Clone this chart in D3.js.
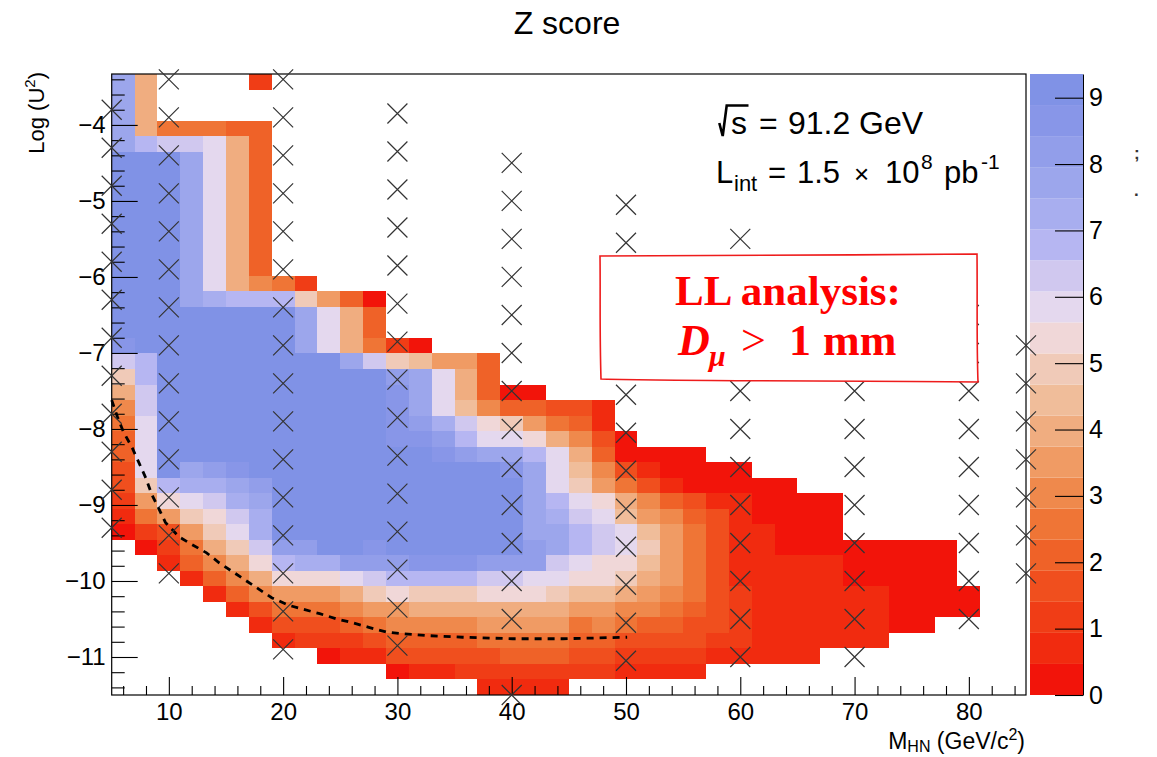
<!DOCTYPE html>
<html>
<head>
<meta charset="utf-8">
<script src="https://cdn.jsdelivr.net/npm/d3@7"></script>
<style>
  html, body { margin: 0; padding: 0; background: #fff; }
  svg { display: block; font-family: "Liberation Sans", Arial, Helvetica, sans-serif; }
</style>
</head>
<body>
<svg id="chart" width="1157" height="757"></svg>
<script>
// ---------------- data ----------------
// Heavy-neutral-lepton mass bins (bin centres, GeV/c^2), 2 GeV wide
const massGeV = [6, 8, 10, 12, 14, 16, 18, 20, 22, 24, 26, 28, 30, 32, 34, 36, 38, 40, 42,
                 44, 46, 48, 50, 52, 54, 56, 58, 60, 62, 64, 66, 68, 70, 72, 74, 76, 78, 80];

// index of the first filled log(U^2) bin of each mass column, counted downward from the top bin
const firstRow = [0, 0, 3, 3, 3, 3, 0, 13, 13, 14, 14, 14, 17, 17, 18, 18, 18, 20, 20,
                  21, 21, 21, 23, 24, 24, 24, 25, 25, 26, 26, 27, 27, 30, 30, 30, 30, 30, 33];

// Z score of each filled bin, top to bottom (null = empty bin)
const zScore = [
  [7.7,7.7,7.7,7.7,7.7,9.3,9.3,9.3,9.3,9.3,9.3,9.3,9.3,9.3,9.3,9.3,9.3,8.7,6.3,4.9,4.0,3.0,2.6,2.1,2.1,1.6,1.6,1.2,0.7,0.2],
  [4.0,4.0,4.0,4.0,6.8,9.3,9.3,9.3,9.3,9.3,9.3,9.3,9.3,9.3,9.3,9.3,9.3,9.3,6.8,6.8,6.3,6.3,5.8,5.8,5.8,5.8,4.9,3.5,2.6,1.2,0.2],
  [2.6,6.3,9.3,9.3,9.3,9.3,9.3,9.3,9.3,9.3,9.3,9.3,9.3,9.3,9.3,9.3,9.3,9.3,9.3,9.3,9.3,9.3,9.3,6.8,5.4,3.5,1.6,1.2,0.7],
  [2.6,6.3,7.7,7.7,7.7,7.7,7.7,7.7,7.7,7.7,7.7,7.7,9.3,9.3,9.3,9.3,9.3,9.3,9.3,9.3,9.3,9.3,7.7,7.3,5.8,4.9,3.5,2.6,2.1,0.7],
  [2.6,5.8,5.8,5.8,5.8,5.8,5.8,5.8,5.8,5.8,5.8,7.3,9.3,9.3,9.3,9.3,9.3,9.3,9.3,9.3,9.3,9.3,8.2,7.3,6.3,5.4,4.9,4.0,3.0,2.1,0.7],
  [2.1,4.0,4.0,4.0,4.0,4.0,4.0,4.0,4.0,4.0,4.0,6.8,9.3,9.3,9.3,9.3,9.3,9.3,9.3,9.3,9.3,9.3,8.7,7.7,7.3,6.3,5.8,4.9,4.0,3.0,2.1,0.7],
  [1.2,null,null,2.1,2.1,2.1,2.1,2.1,2.1,2.1,2.1,2.1,2.1,3.0,6.8,9.3,9.3,9.3,9.3,9.3,9.3,9.3,9.3,9.3,9.3,9.3,8.2,7.7,7.3,7.3,6.3,5.4,4.0,3.0,1.6,0.7],
  [2.6,6.8,9.3,9.3,9.3,9.3,9.3,9.3,9.3,9.3,9.3,9.3,9.3,9.3,9.3,9.3,9.3,8.2,6.8,5.4,3.5,2.6,1.6,0.7],
  [1.2,4.9,7.7,7.7,7.7,9.3,9.3,9.3,9.3,9.3,9.3,9.3,9.3,9.3,9.3,9.3,9.3,8.2,7.3,5.4,3.5,2.6,1.6,1.2],
  [3.5,5.8,5.8,5.8,9.3,9.3,9.3,9.3,9.3,9.3,9.3,9.3,9.3,9.3,9.3,9.3,9.3,7.3,5.4,3.5,2.6,1.6,1.2,0.2],
  [2.1,4.0,4.0,4.0,7.7,9.3,9.3,9.3,9.3,9.3,9.3,9.3,9.3,9.3,9.3,9.3,9.3,8.2,5.8,4.0,3.0,2.1,1.2,0.7],
  [0.2,2.1,2.1,2.6,6.3,9.3,9.3,9.3,9.3,9.3,9.3,9.3,9.3,9.3,9.3,9.3,8.7,8.2,6.3,4.9,3.5,2.6,1.6,0.7],
  [1.2,4.9,8.2,8.7,8.7,8.7,8.7,9.3,9.3,9.3,9.3,9.3,9.3,9.3,8.2,6.8,5.4,3.5,3.0,2.1,1.6,0.2],
  [0.2,4.4,7.7,7.7,7.7,8.2,8.7,9.3,9.3,9.3,9.3,9.3,9.3,9.3,8.7,6.8,4.9,4.0,3.0,2.1,1.6,0.7],
  [3.5,5.8,5.8,5.8,7.3,8.2,8.7,9.3,9.3,9.3,9.3,9.3,9.3,8.7,6.8,4.9,4.0,3.0,2.1,1.6,0.7],
  [3.5,4.0,4.0,4.4,6.3,6.8,8.2,9.3,9.3,9.3,9.3,9.3,9.3,8.7,6.8,4.9,4.0,3.0,2.1,1.6,1.2],
  [2.1,2.1,2.1,3.0,5.4,5.8,7.7,9.3,9.3,9.3,9.3,9.3,9.3,8.2,6.3,5.4,4.0,3.5,2.6,1.6,1.2,0.7],
  [0.2,2.1,4.9,5.8,7.7,8.7,9.3,9.3,9.3,9.3,9.3,8.2,6.3,5.4,4.0,3.5,2.6,2.1,1.2,0.7],
  [0.2,2.1,3.5,5.4,6.8,7.7,7.7,7.7,7.7,7.7,8.2,8.2,5.8,5.4,4.0,3.5,2.6,2.1,1.2,0.7],
  [1.6,2.6,4.0,5.8,5.8,5.8,6.8,7.3,7.7,7.7,6.3,5.8,4.9,4.0,3.5,2.6,2.1,1.2,0.7],
  [1.6,2.1,3.0,4.0,4.4,4.9,5.8,6.3,6.8,6.8,5.8,5.4,4.4,3.5,2.6,2.1,1.6,1.2],
  [0.7,0.7,1.6,2.1,3.0,3.5,5.4,5.8,6.3,6.3,5.4,5.4,4.4,3.5,3.0,2.1,1.6,1.2],
  [0.2,0.2,1.6,2.6,4.0,4.4,5.8,5.8,5.4,4.9,4.0,3.0,2.6,1.6,1.2,0.7],
  [0.2,0.7,1.6,3.0,3.5,4.4,4.9,4.4,4.0,3.5,3.0,2.1,1.6,1.2,0.7],
  [0.2,0.2,0.7,2.1,3.0,3.5,3.5,3.5,3.5,3.0,2.6,2.1,1.6,1.2,0.7],
  [0.2,0.2,0.2,1.6,2.1,2.6,2.6,2.6,2.6,2.6,2.1,1.6,1.6,1.2,0.7],
  [0.2,0.2,0.7,1.6,1.6,1.6,1.6,1.6,1.6,1.6,1.6,1.2,0.7],
  [0.2,0.2,0.7,0.7,0.7,0.7,0.7,0.7,1.2,1.2,1.2,1.2,0.7],
  [0.2,0.2,0.2,0.7,0.7,0.7,0.7,0.7,0.7,0.7,0.7,0.7],
  [0.2,0.2,0.2,0.2,0.2,0.7,0.7,0.7,0.7,0.7,0.7,0.7],
  [0.2,0.2,0.2,0.2,0.7,0.7,0.7,0.7,0.7,0.7,0.7],
  [0.2,0.2,0.2,0.2,0.7,0.7,0.7,0.7,0.7,0.7],
  [0.2,0.2,0.2,0.7,0.7,0.7,0.7],
  [0.2,0.2,0.2,0.7,0.7,0.7,0.7],
  [0.2,0.2,0.2,0.2,0.2,0.2],
  [0.2,0.2,0.2,0.2,0.2,0.2],
  [0.2,0.2,0.2,0.2,0.2],
  [0.2,0.2]
];

// simulated signal points (mass, log U^2)
const scanMass = [5, 10, 20, 30, 40, 50, 60, 70, 80, 85];
const scanLogU2 = [
  [-3.8,-4.3,-4.8,-5.3,-5.8,-6.3,-6.8,-7.3,-7.8,-8.3,-8.8,-9.3],
  [-3.4,-3.9,-4.4,-4.9,-5.4,-5.9,-6.4,-6.9,-7.4,-7.9,-8.4,-8.9,-9.4,-9.9],
  [-3.4,-3.9,-4.4,-4.9,-5.4,-5.9,-6.4,-6.9,-7.4,-7.9,-8.4,-8.9,-9.4,-9.9,-10.4,-10.9],
  [-3.85,-4.35,-4.85,-5.35,-5.85,-6.35,-6.85,-7.35,-7.85,-8.35,-8.85,-9.35,-9.85,-10.35,-10.85],
  [-4.5,-5.0,-5.5,-6.0,-6.5,-7.0,-7.5,-8.0,-8.5,-9.0,-9.5,-10.0,-10.5,-11.5],
  [-5.05,-5.55,-6.05,-6.55,-7.05,-7.55,-8.05,-8.55,-9.05,-9.55,-10.05,-10.55,-11.05],
  [-5.5,-6.0,-6.5,-7.0,-7.5,-8.0,-8.5,-9.0,-9.5,-10.0,-10.5,-11.0],
  [-6.0,-6.5,-7.0,-7.5,-8.0,-8.5,-9.0,-9.5,-10.0,-10.5,-11.0],
  [-6.5,-7.0,-7.5,-8.0,-8.5,-9.0,-9.5,-10.0,-10.5],
  [-6.9,-7.4,-7.9,-8.4,-8.9,-9.4,-9.9]
];

// dashed boundary curve
const curveMass  = [5.0, 5.5, 6.0, 6.8, 7.4, 8.0, 8.5, 9.1, 9.7, 10.9, 11.9, 13.3, 14.4, 15.5, 16.8,
                    17.9, 19.0, 20.5, 21.7, 23.2, 24.7, 26.1, 27.5, 29.0, 30.2, 32.8, 35.7, 40.1, 44.5, 50.1];
const curveLogU2 = [-7.62, -7.84, -8.03, -8.25, -8.45, -8.65, -8.86, -9.04, -9.23, -9.42, -9.51, -9.63, -9.76, -9.87, -10.0,
                    -10.11, -10.22, -10.32, -10.37, -10.43, -10.5, -10.55, -10.61, -10.67, -10.69, -10.72, -10.74, -10.76, -10.76, -10.74];

// axis tick labels
const xTickValues = [10, 20, 30, 40, 50, 60, 70, 80];
const yTickValues = [-4, -5, -6, -7, -8, -9, -10, -11];
const zTickValues = [0, 1, 2, 3, 4, 5, 6, 7, 8, 9];

// 20-level palette, low to high
const bandColors = ["#f2140a","#f12b0f","#f03d16","#f04f1e","#ef6228","#ef7536","#ef894c","#f09b64",
                    "#f0ad80","#f0bd9a","#f0cab8","#f0d7d8","#e4d8ee","#d0c8ef","#b6b6f2","#a8aeef",
                    "#9ca6ec","#929eea","#8896e8","#8092e6"];

// ---------------- layout ----------------
const plot = { left: 111.7, right: 1026, top: 74, bottom: 695 };
const xDomain = [5, 85], yDomain = [-11.5, -3.33], zDomain = [0, 9.357];
const nRows = 40, binW = 2;
const binH = (yDomain[1] - yDomain[0]) / nRows;

const svg = d3.select("#chart");
const x = d3.scaleLinear().domain(xDomain).range([plot.left, plot.right]);
const y = d3.scaleLinear().domain(yDomain).range([plot.bottom, plot.top]);
const color = d3.scaleQuantize().domain(zDomain).range(bandColors);
const zBar = d3.scaleLinear().domain(zDomain).range([plot.bottom, plot.top]);

svg.append("text").attr("x", 567).attr("y", 34).attr("text-anchor", "middle")
  .style("font-size", "32px").attr("fill", "#000").text("Z score");

// ---------------- heat-map cells ----------------
const cells = [];
massGeV.forEach((m, i) => {
  zScore[i].forEach((z, k) => {
    if (z === null) return;
    const r = firstRow[i] + k;
    const hi = yDomain[1] - r * binH;
    cells.push({ m, hi, lo: hi - binH, z });
  });
});

svg.append("g").selectAll("rect").data(cells).join("rect")
  .attr("x", d => Math.round(x(d.m - binW / 2)))
  .attr("width", d => Math.round(x(d.m + binW / 2)) - Math.round(x(d.m - binW / 2)))
  .attr("y", d => Math.round(y(d.hi)))
  .attr("height", d => Math.round(y(d.lo)) - Math.round(y(d.hi)))
  .attr("fill", d => color(d.z));

// ---------------- colour bar ----------------
const bar = svg.append("g");
bar.selectAll("rect").data(bandColors).join("rect")
  .attr("x", 1030).attr("width", 53)
  .attr("y", c => zBar(color.invertExtent(c)[1]))
  .attr("height", c => zBar(color.invertExtent(c)[0]) - zBar(color.invertExtent(c)[1]))
  .attr("fill", c => c);
const zAxis = d3.axisRight(zBar).tickValues(zTickValues).tickSizeInner(-28).tickSizeOuter(0).tickPadding(6)
  .tickFormat(d3.format("d"));
bar.append("g").attr("transform", "translate(1083,0)").call(zAxis)
  .call(g => g.selectAll("text").style("font-size", "25px").attr("fill", "#000"))
  .call(g => g.selectAll("line").attr("stroke", "#000"))
  .call(g => g.select(".domain").attr("stroke", "#000"));

// ---------------- axes ----------------
const yMinor = d3.range(-11.4, -3.35, 0.2).filter(v => Math.abs(v - Math.round(v)) > 0.05);
const xMinor = d3.range(6, 85, 2).filter(v => v % 10 !== 0);

svg.append("g").attr("transform", `translate(${plot.left},0)`)
  .call(d3.axisLeft(y).tickValues(yMinor).tickSizeInner(-13).tickSizeOuter(0).tickFormat(""))
  .call(g => g.select(".domain").remove());
svg.append("g").attr("transform", `translate(${plot.left},0)`)
  .call(d3.axisLeft(y).tickValues(yTickValues).tickSizeInner(-26).tickSizeOuter(0).tickPadding(6)
    .tickFormat(d3.format("d")))
  .call(g => g.select(".domain").remove())
  .call(g => g.selectAll("text").style("font-size", "24px").attr("fill", "#000"));

svg.append("g").attr("transform", `translate(0,${plot.bottom})`)
  .call(d3.axisBottom(x).tickValues(xMinor).tickSizeInner(-9).tickSizeOuter(0).tickFormat(""))
  .call(g => g.select(".domain").remove());
svg.append("g").attr("transform", `translate(0,${plot.bottom})`)
  .call(d3.axisBottom(x).tickValues(xTickValues).tickSizeInner(-18).tickSizeOuter(0).tickPadding(8)
    .tickFormat(d3.format("d")))
  .call(g => g.select(".domain").remove())
  .call(g => g.selectAll("text").style("font-size", "24px").attr("fill", "#000"));

svg.selectAll(".tick line").attr("stroke", "#000").attr("stroke-width", 1.1);

// frame
svg.append("rect").attr("x", plot.left).attr("y", plot.top)
  .attr("width", plot.right - plot.left).attr("height", plot.bottom - plot.top)
  .attr("fill", "none").attr("stroke", "#000").attr("stroke-width", 1.2);

// ---------------- dashed curve ----------------
const curve = d3.line().x(d => x(d[0])).y(d => y(d[1]));
svg.append("path").datum(d3.zip(curveMass, curveLogU2))
  .attr("d", curve).attr("fill", "none").attr("stroke", "#000")
  .attr("stroke-width", 2.8).attr("stroke-dasharray", "7,6");

// ---------------- scan points ----------------
const points = [];
scanMass.forEach((m, i) => scanLogU2[i].forEach(v => points.push([m, v])));
const s = 10;
svg.append("g").selectAll("path").data(points).join("path")
  .attr("transform", d => `translate(${x(d[0])},${y(d[1])})`)
  .attr("d", `M${-s},${-s}L${s},${s}M${-s},${s}L${s},${-s}`)
  .attr("stroke", "#333").attr("stroke-width", 1.2).attr("fill", "none");

// ---------------- axis titles ----------------
svg.append("text")
  .attr("transform", "translate(44,72) rotate(-90)")
  .attr("text-anchor", "end").style("font-size", "22px").attr("fill", "#000")
  .call(t => {
    t.append("tspan").text("Log (U");
    t.append("tspan").attr("dy", -9).style("font-size", "15px").text("2");
    t.append("tspan").attr("dy", 9).text(")");
  });

svg.append("text")
  .attr("x", 1025).attr("y", 749).attr("text-anchor", "end")
  .style("font-size", "23px").attr("fill", "#000")
  .call(t => {
    t.append("tspan").text("M");
    t.append("tspan").attr("dy", 3).style("font-size", "16px").text("HN");
    t.append("tspan").attr("dy", -3).text(" (GeV/c");
    t.append("tspan").attr("dy", -9).style("font-size", "16px").text("2");
    t.append("tspan").attr("dy", 9).text(")");
  });

// ---------------- beam annotations ----------------
svg.append("path").attr("d", "M719.3,123 L722.7,136 L726.7,105.5 L748.5,105.5")
  .attr("fill", "none").attr("stroke", "#000").attr("stroke-width", 2.6).attr("stroke-linejoin", "miter");
const ann1 = svg.append("text").attr("y", 134).style("font-size", "32px").attr("fill", "#000");
ann1.append("tspan").attr("x", 731).text("s");
ann1.append("tspan").attr("x", 759).text("=");
ann1.append("tspan").attr("x", 788).text("91.2");
ann1.append("tspan").attr("x", 859).text("GeV");

const ann2 = svg.append("text").attr("y", 183).style("font-size", "31px").attr("fill", "#000");
ann2.append("tspan").attr("x", 716).text("L");
ann2.append("tspan").attr("x", 734).attr("dy", 8).style("font-size", "22px").text("int");
ann2.append("tspan").attr("x", 768).attr("dy", -8).text("=");
ann2.append("tspan").attr("x", 797).text("1.5");
ann2.append("tspan").attr("x", 854).style("font-size", "26px").text("×");
ann2.append("tspan").attr("x", 885).text("10");
ann2.append("tspan").attr("x", 921).attr("dy", -14).style("font-size", "21px").text("8");
ann2.append("tspan").attr("x", 944).attr("dy", 14).text("pb");
ann2.append("tspan").attr("x", 981).attr("dy", -14).style("font-size", "21px").text("-1");

// small marks right of the palette
svg.append("text").attr("x", 1134).attr("y", 159).style("font-size", "17px").style("font-weight", "bold")
  .attr("fill", "#333").text(";");
svg.append("text").attr("x", 1134).attr("y", 196).style("font-size", "17px").style("font-weight", "bold")
  .attr("fill", "#333").text(".");

// ---------------- analysis label box ----------------
svg.append("path")
  .attr("d", "M600,256 C700,254.5 850,255.5 977,254 C977.5,300 976.5,340 978,382 C850,380.5 700,381.5 601,379 C599.5,330 600.5,290 600,256 Z")
  .attr("fill", "#fff").attr("stroke", "#ee1c1c").attr("stroke-width", 1.6);

svg.append("text").attr("x", 788).attr("y", 305).attr("text-anchor", "middle")
  .style("font-family", "'Liberation Serif', 'Times New Roman', serif")
  .style("font-size", "43px").style("font-weight", "bold").attr("fill", "#ff0000")
  .text("LL analysis:");

const lab2 = svg.append("text").attr("y", 355)
  .style("font-family", "'Liberation Serif', 'Times New Roman', serif")
  .style("font-size", "44px").style("font-weight", "bold").attr("fill", "#ff0000");
lab2.append("tspan").attr("x", 678).style("font-style", "italic").text("D");
lab2.append("tspan").attr("x", 709).attr("dy", 11).style("font-style", "italic").style("font-size", "30px").text("μ");
lab2.append("tspan").attr("x", 741).attr("dy", -11).style("font-weight", "normal").text(">");
lab2.append("tspan").attr("x", 789).text("1");
lab2.append("tspan").attr("x", 823).text("mm");
</script>
</body>
</html>
